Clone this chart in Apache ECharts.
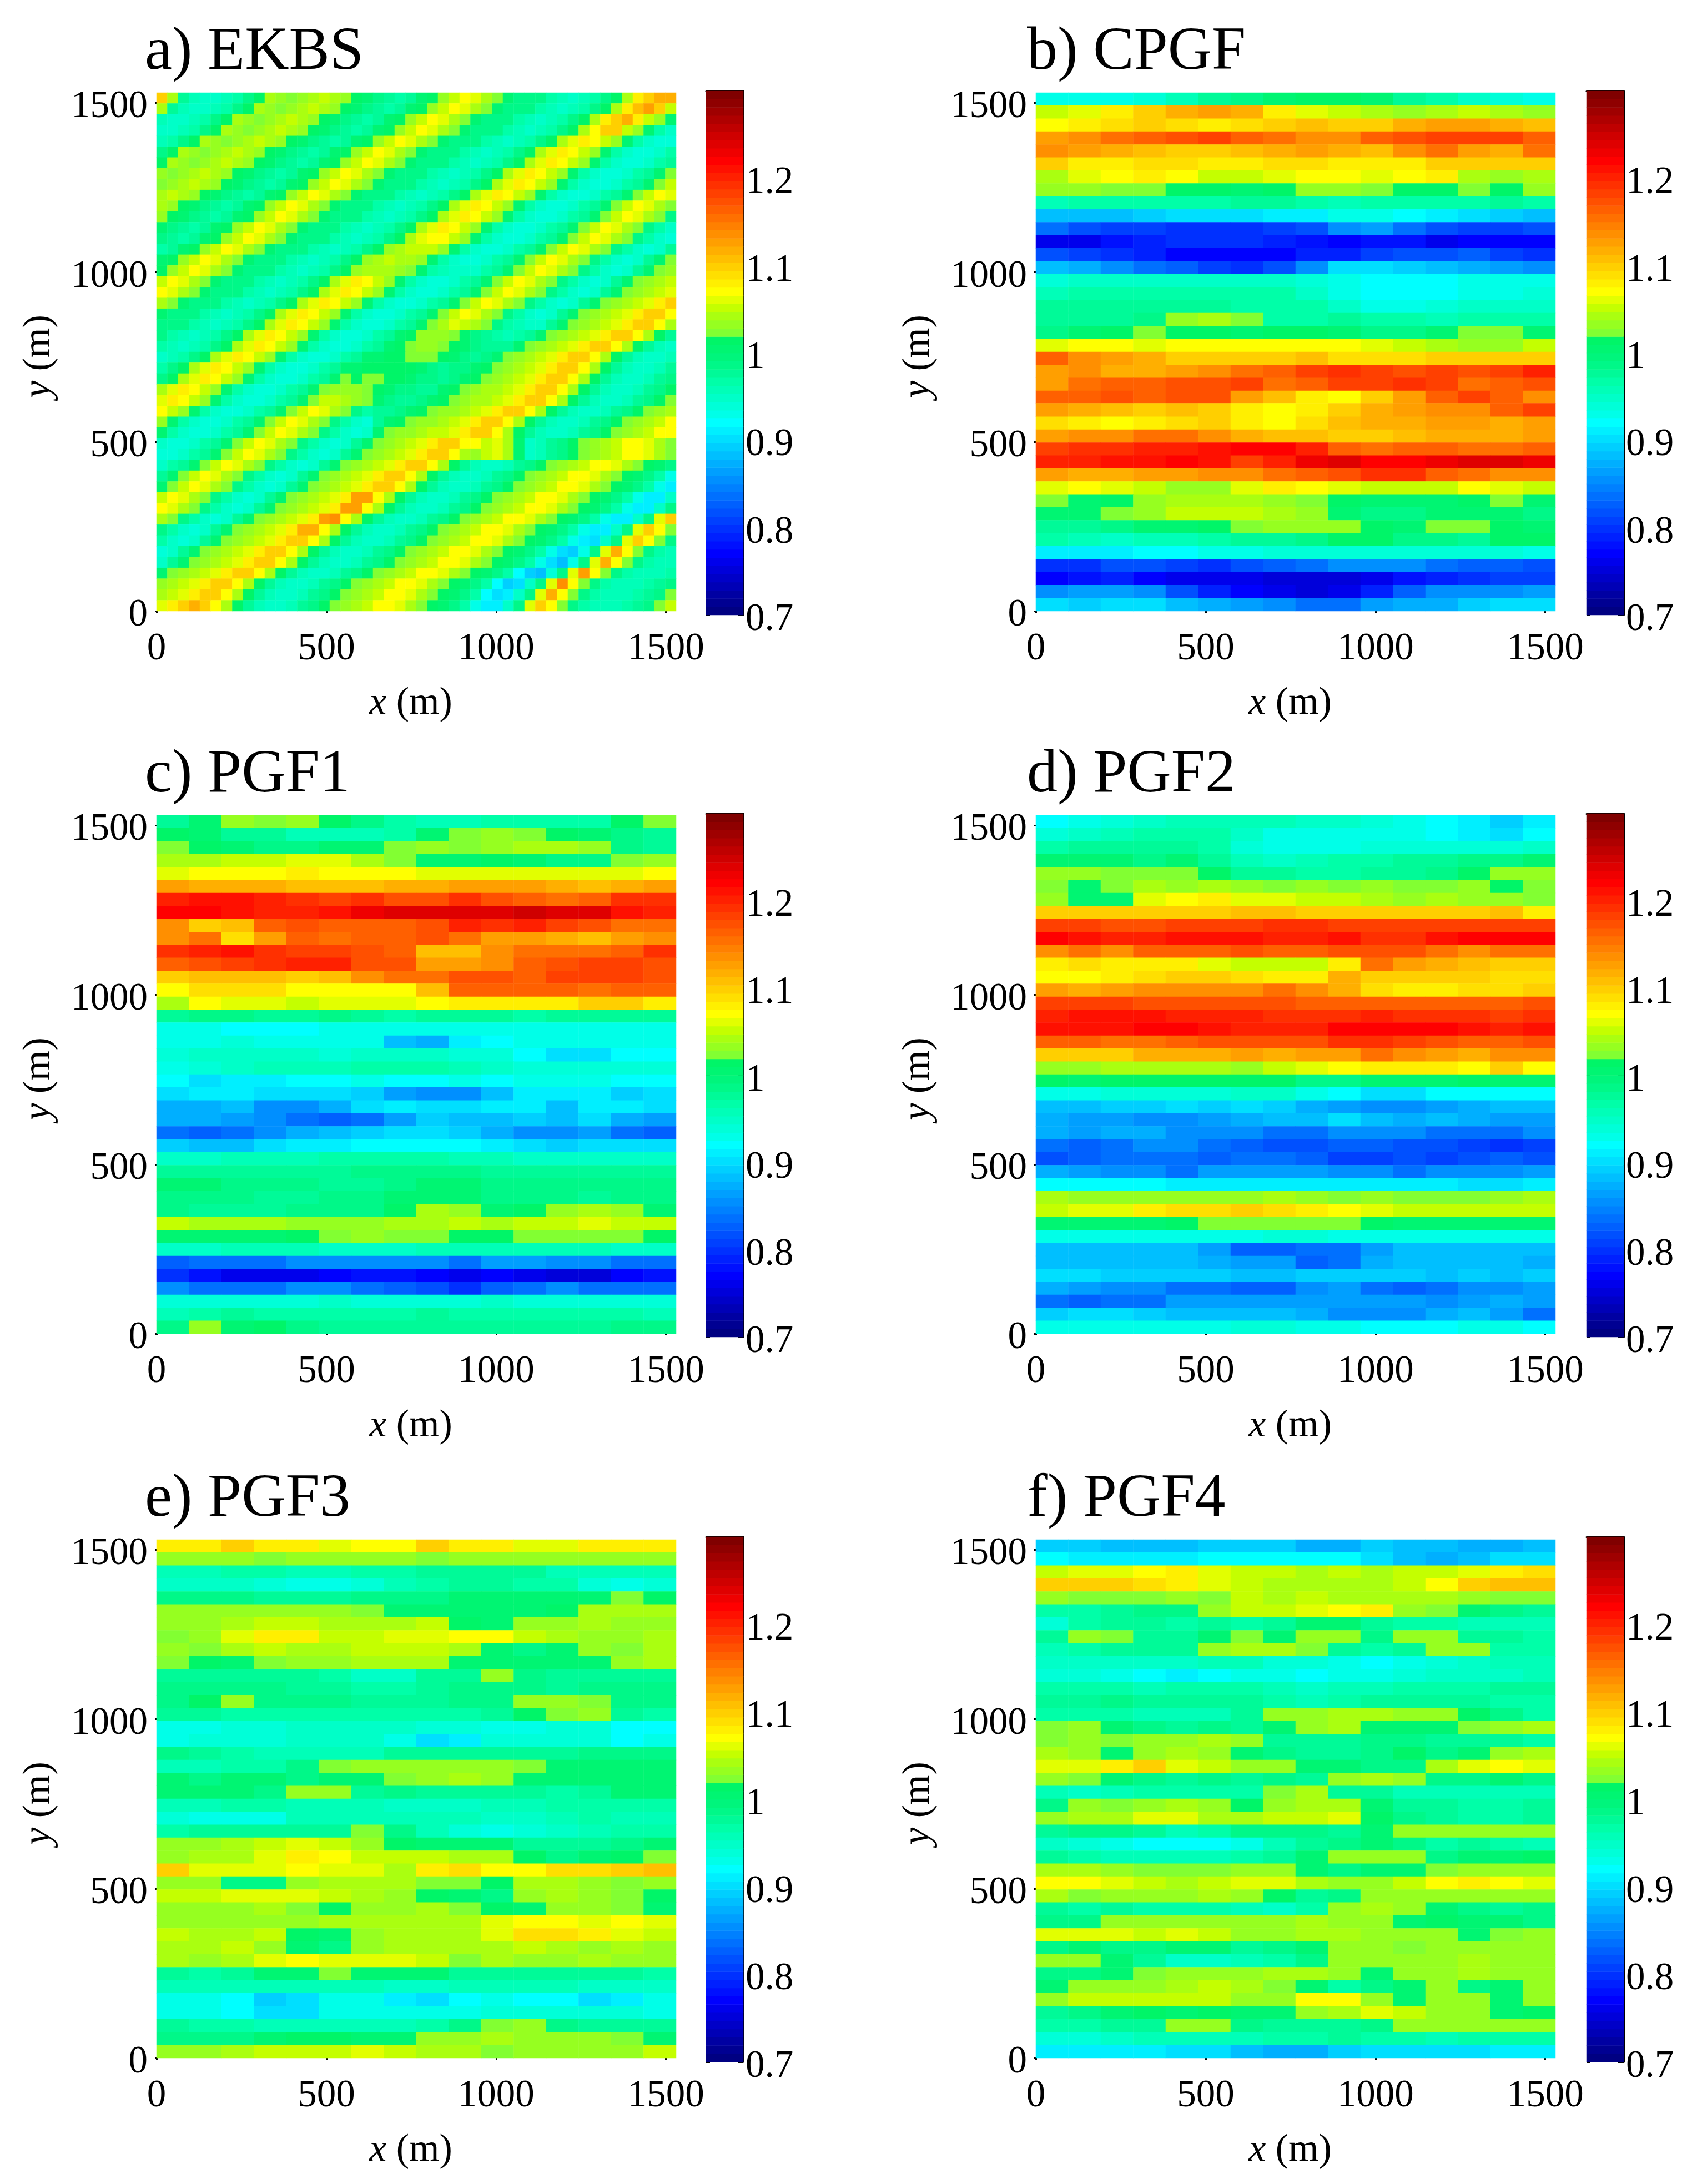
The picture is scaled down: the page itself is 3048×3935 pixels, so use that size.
<!DOCTYPE html>
<html><head><meta charset="utf-8">
<style>html,body{margin:0;padding:0;background:#fff}#c{width:3048px;height:3935px}</style>
<script src="https://cdn.jsdelivr.net/npm/echarts@6/dist/echarts.min.js"></script>
</head><body><div id="c"></div>
<script>
const titles = ['a) EKBS','b) CPGF','c) PGF1','d) PGF2','e) PGF3','f) PGF4'];
const spatialTicks = [0,500,1000,1500];
const colorTicks = [0.7,0.8,0.9,1,1.1,1.2];
const jetColors = ['#000082','#000092','#0000a2','#0000b6','#0000c8','#0000da','#0000ec','#0000ff',
'#0010ff','#0020ff','#0030ff','#0040ff','#0050ff','#0060ff','#0070ff','#0080ff','#008fff','#009fff','#00afff','#00bfff','#00cfff','#00dfff','#00efff','#00ffff',
'#00ffe8','#00ffd8','#00ffc8','#00ffb8','#00ffa8','#00fa98','#00f888','#00f57c','#00f572','#00f568',
'#82ff32','#96ff20','#aaff10','#c4ff00','#e2ff00','#ffff00',
'#ffef00','#ffdf00','#ffcf00','#ffbf00','#ffaf00','#ff9f00','#ff8f00','#ff8000','#ff7000','#ff6000','#ff5000','#ff4000','#ff3000','#ff2000','#ff1000','#ff0000',
'#ef0000','#df0000','#cf0000','#bf0000','#af0000','#9f0000','#8f0000','#800000'];

// Values, in hundredths; first row is the top of the panel.
const ekbs = [
[110,104,98,96,95,95,96,97,99,101,104,103,102,103,104,105,104,103,101,100,99,98,97,98,100,101,103,105,107,106,104,102,100,99,99,99,97,96,95,96,97,99,101,104,108,110,112,112],
[104,98,96,95,95,96,97,99,101,104,103,102,103,104,105,104,103,101,100,99,98,97,98,100,101,103,105,107,106,104,102,100,99,99,99,97,96,95,96,97,99,101,104,108,111,113,110,105],
[96,95,95,96,97,99,101,104,103,102,103,104,105,104,103,101,100,99,98,97,98,100,101,103,105,107,106,104,102,100,99,99,99,97,96,95,96,97,99,101,104,108,110,112,108,105,103,100],
[95,95,96,97,99,101,104,103,102,103,104,105,104,103,101,100,99,98,97,98,100,101,103,105,107,106,104,102,100,99,99,99,97,96,95,96,97,99,101,104,107,110,110,105,103,100,97,95],
[96,97,99,101,104,103,102,103,104,105,104,103,101,100,99,98,97,98,100,101,103,105,107,106,104,102,100,99,99,99,97,96,95,96,97,99,101,104,106,108,107,105,103,100,97,95,94,94],
[99,101,104,103,102,103,104,105,104,103,101,100,99,98,97,98,100,101,103,105,107,106,104,102,100,99,99,99,97,96,95,96,97,99,101,104,106,108,107,105,103,100,97,95,94,94,95,97],
[101,104,103,102,103,104,105,104,103,101,100,99,98,97,98,100,101,103,105,107,106,104,102,100,99,99,99,97,96,95,96,97,99,101,104,106,108,107,105,103,100,97,95,94,94,95,97,98],
[103,102,103,104,105,104,103,101,100,99,98,97,98,100,101,103,105,107,106,104,102,100,99,99,99,97,96,95,96,97,99,101,104,106,108,107,105,103,100,97,95,94,94,95,97,98,100,102],
[102,103,104,105,104,103,101,100,99,98,97,98,100,101,103,105,107,106,104,102,100,99,99,99,97,96,95,96,97,99,101,104,106,108,107,105,103,100,97,95,94,94,95,97,98,100,102,105],
[104,105,104,103,101,100,99,98,97,98,100,101,103,105,107,106,104,102,100,99,99,99,97,96,95,96,97,99,101,104,106,108,107,105,103,100,97,95,94,94,95,97,98,100,102,105,107,106],
[104,103,101,100,99,98,97,98,100,101,103,105,107,106,104,102,100,99,99,99,97,96,95,96,97,99,101,104,106,108,107,105,103,100,97,95,94,94,95,97,98,100,102,105,107,106,104,102],
[103,101,100,99,98,97,98,100,101,103,105,107,106,104,102,100,99,99,99,97,96,95,96,97,99,101,104,106,108,107,105,103,100,97,95,94,94,95,97,98,100,102,105,107,106,104,102,99],
[100,99,98,97,98,100,101,103,105,107,106,104,102,100,99,99,99,97,96,95,96,97,99,101,104,106,108,107,105,103,100,97,95,94,94,95,97,98,100,102,105,107,106,104,102,99,97,95],
[99,98,97,98,100,101,103,105,107,106,104,102,100,99,99,99,97,96,95,96,97,99,101,104,106,107,107,105,103,100,97,95,94,94,95,97,98,100,102,105,107,106,104,102,99,97,95,94],
[97,98,100,101,103,105,107,106,104,102,100,99,99,99,97,96,95,96,97,99,101,103,104,105,105,105,103,100,97,95,94,94,95,97,98,100,102,105,107,106,104,102,99,97,95,94,95,98],
[100,101,103,105,107,106,104,102,100,99,99,99,97,96,95,96,97,99,101,103,104,105,104,104,103,100,97,95,94,94,95,97,98,100,102,105,107,106,104,102,99,97,95,94,95,98,100,102],
[101,103,105,107,106,104,102,100,99,99,99,97,96,95,96,97,99,101,103,104,104,104,103,102,100,97,96,95,95,95,97,98,100,102,105,107,106,104,102,99,97,95,94,95,98,100,102,103],
[105,107,106,104,102,100,99,99,99,97,96,95,96,97,99,101,104,106,108,107,105,103,100,97,95,94,94,95,97,98,100,102,105,107,106,104,102,99,97,95,94,95,98,100,102,103,104,105],
[107,106,104,102,100,99,99,99,97,96,95,96,97,99,101,104,106,108,107,105,103,100,97,95,94,94,95,97,98,100,102,105,107,106,104,102,99,97,95,94,95,98,100,102,103,104,105,106],
[104,102,100,99,99,99,97,96,95,96,97,99,101,104,106,108,107,105,103,100,97,95,94,94,95,97,98,100,102,105,107,106,104,102,99,97,95,94,95,98,100,102,103,104,105,106,108,110],
[100,99,99,99,97,96,95,96,97,99,101,104,106,108,107,105,103,100,97,95,94,94,95,97,98,100,102,105,107,106,104,102,99,97,95,94,95,98,100,102,103,104,105,106,108,110,110,107],
[99,99,99,97,96,95,96,97,99,101,104,106,108,107,105,103,100,97,95,94,94,95,97,98,100,102,104,106,105,104,102,99,97,96,95,95,98,100,102,103,104,105,106,108,110,110,107,104],
[99,97,96,95,96,97,99,101,104,106,108,107,105,103,100,97,95,94,94,95,97,98,100,101,103,103,103,102,100,99,98,97,96,97,98,100,102,103,104,105,106,108,110,110,107,104,101,98],
[97,96,95,96,97,99,101,104,106,108,107,105,103,100,97,95,94,94,95,97,98,100,101,102,103,103,102,101,100,99,98,98,98,100,102,103,104,105,106,108,110,110,107,104,101,98,96,95],
[95,96,97,99,101,104,106,108,107,105,103,100,97,95,94,94,95,97,98,100,100,101,101,102,102,102,101,100,99,98,99,100,102,103,104,105,106,108,110,110,107,104,101,98,96,95,95,96],
[97,99,101,104,106,108,107,105,103,100,97,95,94,94,95,97,98,100,100,101,101,101,101,101,100,99,98,99,99,100,101,102,103,104,105,106,108,110,110,107,104,101,98,96,95,95,96,98],
[99,101,104,106,108,107,105,103,100,97,95,94,94,95,97,98,100,102,101,102,102,101,101,100,99,99,98,99,100,101,102,103,104,105,106,108,110,110,107,104,101,98,96,95,95,96,98,99],
[104,106,108,107,105,103,100,97,95,94,94,95,97,98,100,102,103,103,103,102,101,100,99,99,98,98,100,101,102,103,104,104,105,106,108,110,110,107,104,101,98,96,95,95,96,98,99,101],
[106,108,107,105,103,100,97,95,94,94,95,97,98,100,102,105,105,104,103,102,100,99,98,98,99,100,101,102,103,104,104,105,106,108,110,110,107,104,101,98,96,95,95,96,98,99,101,102],
[107,105,103,100,97,95,94,94,95,97,98,100,102,105,107,106,104,102,99,97,98,98,99,100,101,102,103,103,104,105,106,108,110,110,107,104,101,98,96,95,95,96,98,99,101,102,103,104],
[103,100,97,95,94,94,95,97,98,100,102,105,107,106,104,102,99,97,95,94,98,100,101,102,103,103,104,105,106,108,110,110,107,104,101,98,96,95,95,96,98,99,101,102,103,104,105,107],
[100,97,95,94,94,95,97,98,100,102,105,107,106,104,102,99,97,95,94,95,100,102,103,103,104,105,105,106,108,110,110,107,104,101,98,96,95,95,96,98,99,101,102,103,104,105,107,107],
[95,94,94,95,97,98,100,102,105,107,106,104,102,99,97,95,94,95,98,100,102,103,104,105,106,108,110,110,107,107,105,106,104,100,95,96,98,99,101,102,103,104,105,107,107,106,104,102],
[94,94,95,97,98,100,102,105,107,106,104,102,99,97,95,94,95,98,100,102,103,104,105,106,108,110,110,107,104,103,105,106,104,100,95,96,98,99,101,102,103,104,105,107,107,106,104,102],
[95,97,98,100,102,105,107,106,104,102,99,97,95,94,95,98,100,102,103,104,105,106,108,110,110,107,104,101,98,96,95,95,96,98,99,101,102,103,104,105,107,107,106,104,102,101,100,99],
[98,100,102,105,107,106,104,102,99,97,95,94,95,98,100,102,103,104,105,106,108,110,110,107,104,101,98,96,95,95,96,98,99,101,102,103,104,105,107,107,106,104,102,101,100,99,97,93],
[100,102,105,107,106,104,102,99,97,95,94,95,98,100,102,103,104,105,106,108,110,110,107,104,101,98,96,95,95,96,98,99,101,102,103,104,105,107,107,106,104,102,101,100,99,97,93,91],
[105,107,106,104,102,99,97,95,94,95,98,100,102,103,104,105,106,108,113,113,107,104,101,98,96,95,95,96,98,99,101,102,103,104,105,107,107,106,104,102,101,100,99,97,93,91,91,95],
[107,106,104,102,99,97,95,94,95,98,100,102,103,104,105,106,108,113,113,107,104,101,98,96,95,95,96,98,99,101,102,103,104,105,107,107,106,104,102,101,100,99,97,93,91,91,95,99],
[104,102,99,97,95,94,95,98,100,102,103,104,105,106,108,113,114,107,104,101,98,96,95,95,96,98,99,101,102,103,104,105,107,107,106,104,102,101,100,99,97,93,91,91,95,99,106,110],
[99,97,95,94,95,98,100,102,103,104,105,106,108,112,112,107,104,101,98,96,95,95,96,98,99,101,102,103,104,105,107,107,106,104,102,101,100,99,97,93,91,91,95,99,106,110,107,102],
[97,95,94,95,98,100,102,103,104,105,106,108,110,110,107,104,101,98,96,95,95,96,98,99,101,102,103,104,105,107,107,106,104,102,101,100,99,97,93,91,90,95,99,106,110,107,102,99],
[94,95,98,100,102,103,104,105,106,108,110,110,107,104,101,98,96,95,95,96,98,99,101,102,103,104,105,107,107,106,104,102,101,100,99,97,93,90,89,93,99,106,112,107,102,99,97,96],
[95,98,100,102,103,104,105,106,108,110,110,107,104,101,98,96,95,95,96,98,99,101,102,103,104,105,107,107,106,104,102,101,100,99,97,93,90,88,93,99,106,112,107,102,99,97,96,96],
[100,102,103,104,105,106,108,110,110,107,104,101,98,96,95,95,96,98,99,101,102,103,104,105,107,107,106,104,102,101,100,99,97,92,89,88,94,99,106,113,107,102,99,97,96,96,96,97],
[103,104,105,106,108,110,110,107,104,101,98,96,95,95,96,98,99,101,102,103,104,105,107,107,106,104,102,101,100,99,97,92,89,90,95,99,106,114,107,102,99,97,96,96,96,97,98,99],
[104,105,106,108,110,110,107,104,101,98,96,95,95,96,98,99,101,102,103,104,105,107,107,106,104,102,101,100,99,97,92,90,91,95,99,106,112,107,102,99,97,96,96,96,97,98,99,102],
[106,108,110,112,110,107,104,101,98,96,95,95,96,98,99,101,102,103,104,105,107,107,106,104,102,101,100,99,97,93,91,91,95,99,106,110,107,102,99,97,96,96,96,97,98,99,102,105]
];
const cpgf = [
[93,93,93,94,96,98,99,100,101,101,100,98,97,95,94,93],
[105,106,108,110,112,113,112,108,106,105,104,103,104,105,104,103],
[107,108,109,110,109,108,109,110,111,110,110,112,113,113,112,111],
[113,114,115,116,117,118,116,115,114,114,116,117,118,118,118,116],
[114,113,112,111,110,110,111,112,113,112,111,114,115,113,112,115],
[110,108,108,109,109,108,108,109,109,108,108,108,110,110,110,110],
[104,106,107,108,107,105,105,106,107,107,106,107,108,104,103,104],
[103,103,102,102,101,101,100,101,103,103,102,101,101,102,101,103],
[96,97,97,97,97,97,98,98,97,96,97,97,97,97,98,97],
[88,88,88,89,90,90,90,91,91,93,93,92,91,90,89,88],
[84,82,81,81,80,80,80,81,82,85,86,84,82,81,81,82],
[76,76,78,79,80,80,80,79,78,77,78,78,76,77,77,77],
[82,81,80,79,77,77,77,77,79,79,81,82,82,83,81,80],
[88,87,85,84,83,81,80,82,85,90,90,89,88,87,86,85],
[94,95,95,95,95,95,95,95,94,93,92,92,92,93,93,93],
[96,97,97,97,97,97,97,97,95,93,92,92,92,93,93,94],
[98,98,98,98,98,98,97,97,97,95,93,93,94,95,95,95],
[98,98,98,99,103,104,102,97,97,98,97,97,96,97,97,97],
[99,100,101,102,101,101,100,101,101,100,99,99,100,102,102,100],
[106,107,107,106,107,107,107,107,107,107,106,105,104,103,103,105],
[116,114,113,112,110,110,110,110,111,109,109,109,110,110,110,110],
[113,114,112,112,113,114,115,116,118,119,118,117,118,117,118,120],
[113,115,116,116,117,117,118,115,116,118,118,119,118,115,116,117],
[116,116,117,116,117,117,113,111,108,107,110,113,116,118,116,114],
[113,112,111,110,111,110,108,107,108,110,112,113,114,114,116,118],
[109,108,107,108,109,110,108,107,109,111,112,112,113,113,112,113],
[113,114,114,115,115,114,112,111,111,110,110,111,112,112,112,113],
[118,119,119,120,120,121,122,122,120,116,115,116,116,115,115,116],
[120,120,121,121,122,121,118,120,123,124,122,122,123,124,124,123],
[113,112,112,113,113,114,114,115,116,117,119,119,116,115,114,114],
[106,107,106,105,103,103,106,108,107,106,105,105,105,107,106,105],
[102,100,101,103,104,104,104,103,102,101,100,100,100,101,102,100],
[100,100,102,103,105,105,105,104,103,100,99,99,100,100,100,99],
[98,98,99,100,100,101,102,103,103,103,101,100,102,102,101,100],
[97,96,95,96,96,97,98,98,99,101,101,99,99,98,101,101],
[91,91,91,92,92,93,93,94,94,94,94,94,94,94,94,93],
[80,80,82,82,81,80,82,83,84,85,85,85,84,83,83,82],
[77,78,79,77,76,76,76,75,75,75,76,78,79,80,81,81],
[85,86,86,85,82,79,77,76,75,76,79,83,85,85,85,86],
[90,89,90,90,88,87,86,85,84,84,86,87,87,89,90,90]
];
const pgf1 = [
[98,100,103,102,103,101,99,97,96,96,97,97,97,97,101,102],
[101,100,98,98,96,96,96,97,100,102,103,102,101,100,99,98],
[102,101,100,99,99,100,100,102,103,102,103,104,104,103,99,98],
[104,104,105,105,106,106,104,102,100,100,101,100,99,99,102,103],
[106,107,107,107,108,107,107,107,106,106,106,106,106,106,106,107],
[113,112,112,112,111,111,111,112,112,113,113,113,112,111,112,113],
[120,121,121,120,119,118,119,117,117,119,117,116,115,116,119,119],
[122,122,121,120,120,121,123,124,124,124,124,125,124,124,121,120],
[114,110,111,116,117,116,116,116,117,120,119,120,118,117,115,115],
[114,115,109,113,116,115,116,116,117,115,113,113,112,111,113,114],
[119,120,121,119,118,118,117,116,111,111,114,115,115,115,116,119],
[116,117,118,119,120,120,117,117,113,113,114,116,117,118,118,117],
[110,111,111,111,110,111,114,115,115,117,117,116,118,118,118,117],
[107,109,109,109,107,107,107,107,111,116,116,116,116,115,116,116],
[104,107,106,106,105,106,106,106,107,108,108,108,108,110,110,108],
[98,99,99,98,98,99,98,97,98,98,98,97,98,98,98,98],
[93,93,92,92,92,93,93,93,93,93,93,93,93,93,93,93],
[93,93,94,93,93,93,93,88,87,91,92,93,93,93,93,93],
[94,95,95,95,95,94,95,95,95,94,94,92,90,90,92,92],
[93,94,95,96,96,96,97,97,97,96,95,94,94,94,94,94],
[92,90,91,91,92,92,93,92,92,93,92,93,93,93,92,92],
[90,91,91,90,90,90,89,86,85,85,88,91,91,91,89,90],
[87,87,88,85,85,87,90,91,90,90,91,91,88,91,91,90],
[87,87,86,85,84,83,84,86,89,88,88,89,88,90,87,86],
[84,83,84,85,87,88,89,90,90,89,87,85,85,86,84,83],
[89,88,88,90,91,91,92,92,92,92,91,90,89,90,90,90],
[95,95,96,96,96,97,97,97,97,96,96,95,95,95,95,95],
[98,98,98,98,98,98,99,99,99,99,98,98,98,98,98,98],
[100,100,99,99,99,98,98,99,100,100,99,99,99,99,99,99],
[99,99,99,98,98,99,99,100,100,100,99,99,99,98,99,99],
[99,98,98,98,99,99,99,101,104,103,100,101,103,104,103,100],
[105,104,104,104,103,103,103,104,104,105,104,105,105,106,105,105],
[100,100,100,100,101,102,103,102,102,101,101,102,102,102,102,101],
[95,95,96,96,96,95,95,95,96,96,96,96,96,96,95,95],
[83,84,84,84,85,85,85,85,85,84,86,86,85,85,84,84],
[80,78,76,76,76,77,78,78,77,76,77,76,75,75,77,78],
[85,84,84,84,85,85,84,83,82,80,83,84,85,84,84,84],
[94,94,94,94,94,95,94,94,94,94,95,94,94,94,94,94],
[96,97,98,97,97,97,97,97,98,97,97,97,97,97,97,96],
[99,103,100,101,99,98,98,98,98,98,98,98,98,98,99,99]
];
const pgf2 = [
[92,93,94,95,96,96,96,96,95,95,94,93,92,91,89,91],
[94,95,96,97,97,97,95,93,93,93,93,93,92,91,90,92],
[97,98,98,98,98,97,94,93,93,93,94,94,94,94,94,95],
[100,100,100,99,100,98,96,95,96,97,97,98,98,99,99,100],
[103,103,102,102,102,101,98,98,97,97,98,98,99,101,103,103],
[102,100,102,104,103,104,103,102,103,102,103,102,102,103,101,102],
[103,100,100,106,107,108,106,106,105,105,104,103,104,103,103,102],
[110,110,110,110,110,110,111,111,110,110,110,110,110,110,111,108],
[118,118,117,117,118,118,118,119,119,118,118,118,118,118,118,118],
[122,121,120,120,121,121,121,120,120,121,119,119,121,122,122,122],
[114,115,114,116,116,116,117,116,116,117,117,117,115,114,115,115],
[108,109,108,108,108,106,105,105,105,108,115,113,112,111,110,110],
[107,107,108,109,110,110,109,108,108,112,110,110,110,110,109,109],
[113,112,113,114,114,114,114,115,114,112,109,108,108,109,109,110],
[118,118,118,117,117,117,117,117,116,116,116,116,116,116,116,117],
[120,121,121,121,120,120,120,119,119,119,120,119,119,119,118,119],
[121,121,121,122,122,121,120,120,120,122,122,122,122,121,120,121],
[116,116,115,115,116,117,117,117,117,119,119,118,117,116,116,117],
[110,110,110,112,112,112,113,112,113,113,115,114,113,112,114,114],
[103,103,104,104,104,104,103,105,106,107,108,108,108,107,110,107],
[101,100,101,101,101,101,101,101,99,99,100,100,100,101,100,100],
[93,93,94,94,94,94,95,95,93,92,90,90,92,92,92,92],
[88,88,89,89,90,89,90,89,87,86,85,85,86,87,88,88],
[87,86,86,85,85,86,87,88,88,90,88,87,88,87,86,86],
[87,86,87,87,85,85,85,84,84,85,85,85,84,84,84,85],
[84,83,84,85,85,84,83,82,82,83,83,82,82,81,80,81],
[82,83,84,84,84,83,84,84,83,81,81,82,81,82,83,82],
[87,86,85,85,84,86,86,86,86,85,85,84,85,85,85,86],
[92,92,92,92,91,91,91,91,91,91,91,91,91,90,90,91],
[104,103,103,103,103,103,103,104,103,102,103,102,102,102,103,104],
[105,106,106,108,109,109,110,109,108,107,106,105,105,105,105,105],
[100,100,100,100,101,102,102,102,102,102,101,100,100,100,100,100],
[93,93,93,93,93,93,93,94,94,93,93,93,93,93,93,93],
[88,88,88,88,88,86,83,83,84,84,86,88,88,88,88,88],
[88,88,88,88,88,87,86,86,83,84,87,88,88,88,88,87],
[90,90,89,89,89,89,88,88,89,89,89,89,88,89,88,89],
[87,86,85,85,84,84,83,83,85,86,84,83,84,85,85,86],
[84,83,84,84,86,86,86,86,86,86,86,86,85,86,87,86],
[89,90,90,89,88,88,88,88,87,85,85,85,87,88,86,84],
[93,93,93,93,93,93,94,94,93,93,92,92,92,93,93,92]
];
const pgf3 = [
[108,108,110,108,108,106,107,107,110,108,108,106,106,108,108,108],
[103,103,103,102,103,103,103,103,102,103,103,103,103,103,103,103],
[96,96,97,97,96,96,97,97,98,98,98,98,96,96,96,96],
[95,95,95,94,93,93,94,96,97,98,98,97,97,94,93,94],
[99,99,99,98,98,98,99,99,99,100,100,100,100,100,102,101],
[103,103,103,103,103,103,102,100,100,100,100,100,101,104,104,104],
[103,103,104,105,105,104,104,104,105,101,100,103,103,104,103,103],
[102,103,106,108,108,105,105,106,106,107,107,105,104,103,103,104],
[103,102,104,105,104,104,105,105,105,104,100,99,100,103,102,104],
[102,101,100,102,103,103,104,104,104,100,100,100,100,100,103,104],
[98,98,98,98,98,97,95,95,98,98,103,99,98,98,98,98],
[99,99,99,99,98,98,97,97,98,99,99,99,98,99,99,99],
[99,101,103,99,99,99,98,98,98,99,99,103,103,102,99,99],
[98,98,97,97,97,97,97,97,97,97,98,101,102,103,98,97],
[93,93,94,94,95,95,95,95,94,94,93,93,94,94,92,92],
[93,94,94,94,95,95,95,93,90,91,94,94,94,94,92,93],
[99,98,97,96,96,96,96,98,98,98,98,98,98,99,99,99],
[96,96,97,97,99,102,103,103,103,103,103,102,100,100,100,100],
[100,99,100,100,99,100,100,102,103,104,103,100,100,100,100,100],
[100,100,100,99,103,103,98,99,98,98,98,98,97,98,100,100],
[96,96,97,97,96,96,96,95,95,95,96,96,97,97,97,97],
[94,93,93,93,96,96,96,96,96,96,95,95,96,97,96,96],
[97,98,98,98,98,98,102,99,96,94,93,94,95,96,97,97],
[103,103,104,105,106,105,103,101,100,100,100,98,98,98,99,100],
[103,104,104,106,108,107,105,105,105,104,104,101,99,100,101,102],
[110,106,106,106,107,106,106,104,108,109,107,107,109,109,110,111],
[103,103,99,99,103,104,104,104,102,102,101,104,104,103,102,103],
[105,105,106,106,106,105,104,103,101,100,99,103,104,103,102,101],
[103,103,103,104,102,101,103,103,104,102,101,100,103,103,102,100],
[103,103,103,103,103,104,104,104,104,104,106,107,107,106,107,106],
[105,104,104,105,101,100,103,104,104,104,106,109,109,108,106,105],
[104,104,105,103,100,99,103,104,104,104,104,105,104,103,104,103],
[104,103,104,106,107,106,106,106,105,102,104,103,103,104,103,103],
[98,97,98,100,100,102,100,100,100,98,98,98,98,98,98,97],
[96,96,96,96,96,96,96,95,95,96,96,96,96,95,95,95],
[93,93,92,89,90,93,93,91,90,92,93,92,92,90,91,93],
[93,93,92,90,90,93,93,93,93,93,94,94,94,94,94,93],
[98,97,97,96,96,96,96,96,97,99,102,103,99,98,98,98],
[99,99,99,100,101,101,100,100,103,103,104,103,103,103,102,100],
[103,103,104,105,105,105,106,105,104,104,102,103,103,103,103,105]
];
const pgf4 = [
[89,89,88,88,88,89,89,89,87,87,89,88,88,87,87,88],
[92,91,91,91,91,92,92,92,92,92,90,88,87,88,90,90],
[105,106,106,107,108,106,105,105,104,105,104,105,105,106,108,109],
[110,110,110,109,108,106,105,104,104,104,104,105,107,110,111,111],
[103,102,102,102,103,102,105,104,105,104,104,104,104,103,102,102],
[97,97,98,99,99,103,105,105,106,107,108,103,102,100,99,98],
[94,97,98,98,97,98,97,98,100,100,98,97,97,96,96,96],
[98,103,102,98,98,100,102,100,103,103,99,103,103,98,98,97],
[96,97,98,98,98,103,104,104,102,98,97,98,103,103,97,97],
[95,95,95,95,95,96,96,94,94,93,92,93,94,95,96,96],
[94,94,93,92,91,92,93,93,92,93,93,94,95,95,95,96],
[97,97,97,96,97,97,97,96,95,96,96,97,97,97,98,98],
[98,98,99,98,98,98,98,97,96,97,98,98,98,98,97,97],
[97,97,97,96,96,96,98,103,103,104,104,103,103,101,99,97],
[102,103,100,99,98,99,98,100,103,104,100,100,100,102,103,104],
[102,103,102,103,103,104,103,98,98,98,99,99,98,98,98,97],
[104,103,100,103,104,103,100,99,98,98,99,101,99,100,103,104],
[106,106,108,110,106,105,103,103,100,100,99,99,104,106,107,106],
[103,102,100,99,98,99,98,99,98,103,104,103,99,99,100,99],
[96,95,96,97,97,97,97,102,104,98,98,96,96,96,96,96],
[99,103,102,103,104,103,101,103,104,104,100,98,98,97,97,98],
[103,104,104,106,106,104,104,105,105,106,101,99,98,97,97,98],
[98,99,99,98,96,97,99,99,99,98,100,103,103,103,103,103],
[95,94,93,92,92,92,93,96,98,99,100,99,97,98,97,96],
[98,97,96,96,96,96,97,98,100,103,103,103,99,100,100,101],
[104,104,103,102,102,102,103,103,100,99,100,100,102,103,103,103],
[107,107,106,105,104,105,106,106,104,103,103,105,107,108,107,106],
[104,102,103,103,103,104,103,101,98,99,103,103,103,103,103,103],
[98,97,98,97,97,97,96,95,97,103,104,103,100,99,98,99],
[99,99,103,103,103,103,103,103,104,103,103,100,101,100,100,99],
[106,106,106,105,106,105,103,103,104,104,103,103,103,100,102,103],
[99,100,99,99,100,100,98,99,100,103,103,102,103,103,103,103],
[103,103,100,98,95,95,96,97,99,103,103,103,103,104,103,103],
[99,99,100,102,103,103,103,104,104,103,100,103,103,104,103,103],
[100,103,103,103,104,105,104,102,100,97,99,100,103,99,100,103],
[103,105,105,105,105,105,103,103,107,107,103,100,103,103,100,103],
[98,99,100,101,100,101,100,100,103,104,106,105,103,103,100,101],
[97,97,98,98,103,103,99,98,98,98,99,103,103,103,103,103],
[94,94,95,96,96,96,96,97,97,98,97,97,96,97,97,97],
[91,91,91,91,90,90,88,87,87,89,90,90,90,90,91,91]
];
const fields = [ekbs,cpgf,pgf1,pgf2,pgf3,pgf4];

const SERIF = 'Liberation Serif';
const plotLeft = [282,1866], plotW = 936, plotTop = [167,1469,2774], plotH = 934;
const barLeft = [1272,2858], barW = 67, barTop = [164,1466,2769], barH = [944,943,946];
const tickFont = {color:'#000',fontFamily:SERIF,fontSize:69};
const cMin = 0.7, cMax = 1.3, cStep = (cMax-cMin)/jetColors.length;

const grid=[],xAxis=[],yAxis=[],series=[],title=[];
const pieces = jetColors.map((c,k)=>({gte:cMin+k*cStep-(k===0?1:0),lt:cMin+(k+1)*cStep+(k===jetColors.length-1?1:0),color:c}));
const nameStyle = pad=>({fontFamily:SERIF,fontSize:70,color:'#000',padding:pad,rich:{i:{fontFamily:SERIF,fontSize:70,fontStyle:'italic',color:'#000'}}});

fields.forEach((rows,p)=>{
  const col=p%2,row=Math.floor(p/2);
  const nR=rows.length,nC=rows[0].length;
  title.push({text:titles[p],left:plotLeft[col]-(col?21:26),top:plotTop[row]-132,textStyle:{fontFamily:SERIF,fontSize:110,fontWeight:'normal',color:'#000'}});
  const g=grid.length;
  grid.push({left:plotLeft[col],top:plotTop[row],width:plotW,height:plotH});
  const xCat=xAxis.length, yCat=yAxis.length;
  xAxis.push({type:'category',gridIndex:g,show:false,data:Array.from({length:nC},(_,i)=>i)});
  yAxis.push({type:'category',gridIndex:g,show:false,data:Array.from({length:nR},(_,i)=>i)});
  xAxis.push({type:'value',gridIndex:g,min:0,max:1530,position:'bottom',splitLine:{show:false},axisLine:{show:false},
    axisTick:{show:true,length:3,customValues:spatialTicks,lineStyle:{color:'#000',width:3}},
    axisLabel:{...tickFont,margin:34,customValues:spatialTicks,hideOverlap:false,formatter:v=>String(v)},
    name:'{i|x} (m)',nameLocation:'middle',nameGap:132,nameTextStyle:nameStyle([0,20,0,0])});
  yAxis.push({type:'value',gridIndex:g,min:0,max:1530,position:'left',splitLine:{show:false},axisLine:{show:false},
    axisTick:{show:true,length:3,customValues:spatialTicks,lineStyle:{color:'#000',width:3}},
    axisLabel:{...tickFont,margin:16,verticalAlign:'top',lineHeight:16,customValues:spatialTicks,hideOverlap:false,formatter:v=>String(v)},
    name:'{i|y} (m)',nameLocation:'middle',nameGap:176,nameTextStyle:nameStyle([0,16,0,0])});
  const data=[];
  rows.forEach((r,ri)=>r.forEach((v,ci)=>data.push([ci,nR-1-ri,v/100])));
  series.push({type:'heatmap',xAxisIndex:xCat,yAxisIndex:yCat,data,progressive:0,animation:false,itemStyle:{borderWidth:0}});
  const gb=grid.length;
  grid.push({left:barLeft[col],top:barTop[row],width:barW,height:barH[row]});
  const xb=xAxis.length,yb=yAxis.length;
  xAxis.push({type:'category',gridIndex:gb,position:'top',data:['c'],axisLine:{show:true,onZero:false,lineStyle:{color:'#000',width:3}},axisTick:{show:false},axisLabel:{show:false}});
  yAxis.push({type:'category',gridIndex:gb,show:false,data:jetColors.map((_,k)=>k)});
  yAxis.push({type:'value',gridIndex:gb,position:'right',min:cMin,max:cMax,splitLine:{show:false},
    axisLine:{show:true,onZero:false,lineStyle:{color:'#000',width:3}},
    axisTick:{show:true,inside:true,length:10,customValues:colorTicks,lineStyle:{color:'#000',width:3}},
    axisLabel:{...tickFont,margin:4,verticalAlign:'top',lineHeight:18,customValues:colorTicks,hideOverlap:false,formatter:v=>Math.abs(v-1)<1e-6?'1':v.toFixed(1)}});
  yAxis.push({type:'value',gridIndex:gb,position:'left',min:cMin,max:cMax,splitLine:{show:false},axisLine:{show:false},
    axisTick:{show:true,inside:true,length:7,customValues:colorTicks,lineStyle:{color:'#000',width:3}},axisLabel:{show:false}});
  series.push({type:'heatmap',xAxisIndex:xb,yAxisIndex:yb,progressive:0,animation:false,
    data:jetColors.map((_,k)=>[0,k,cMin+(k+0.5)*cStep]),itemStyle:{borderWidth:0}});
});

const chart=echarts.init(document.getElementById('c'),null,{renderer:'canvas',width:3048,height:3935});
chart.setOption({animation:false,backgroundColor:'#fff',title,grid,xAxis,yAxis,series,
  tooltip:{show:false},
  visualMap:{type:'piecewise',show:false,seriesIndex:series.map((_,i)=>i),pieces,dimension:2}
});
</script></body></html>
